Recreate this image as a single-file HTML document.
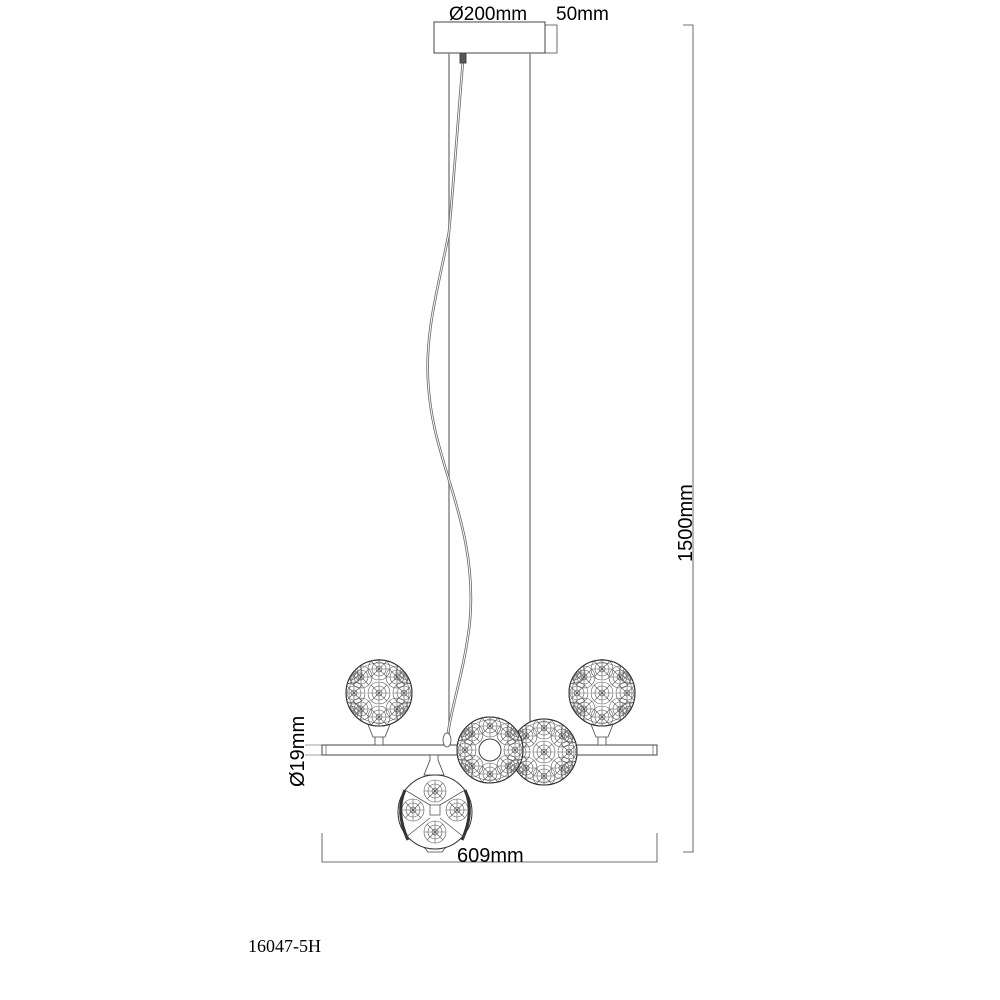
<!DOCTYPE html>
<html><head><meta charset="utf-8"><style>
html,body{margin:0;padding:0;background:#fff;width:1000px;height:1000px;overflow:hidden}
svg{display:block}
text{font-family:"Liberation Sans",sans-serif;fill:#000}
</style></head><body>
<svg width="1000" height="1000" viewBox="0 0 1000 1000" xmlns="http://www.w3.org/2000/svg">
<defs>
<g id="ros" fill="none" stroke="#555" stroke-width="0.6">
  <circle r="11"/><circle r="7"/><circle r="3"/>
  <path d="M-11 0H11M0 -11V11M-8 -8L8 8M-8 8L8 -8"/>
</g>
<clipPath id="c33"><circle r="33"/></clipPath>
<g id="ball">
  <circle r="33" fill="#fff" stroke="#333" stroke-width="1"/>
  <g clip-path="url(#c33)">
  <use href="#ros"/>
  <use href="#ros" x="-18" y="-16"/><use href="#ros" x="18" y="-16"/>
  <use href="#ros" x="-18" y="16"/><use href="#ros" x="18" y="16"/>
  <use href="#ros" x="0" y="-24"/><use href="#ros" x="0" y="24"/>
  <use href="#ros" x="-25" y="0"/><use href="#ros" x="25" y="0"/>
  <use href="#ros" x="-28" y="-20"/><use href="#ros" x="28" y="-20"/>
  <use href="#ros" x="-28" y="20"/><use href="#ros" x="28" y="20"/>
  </g>
  <circle r="33" fill="none" stroke="#333" stroke-width="1"/>
  <circle r="30" fill="none" stroke="#666" stroke-width="0.6"/>
</g>
</defs>
<g stroke="#444" fill="none">
  <rect x="434" y="22" width="111" height="31" stroke-width="1"/>
  <path d="M545 25H557V53H545" stroke-width="0.8"/>
  <line x1="449" y1="53" x2="449" y2="745" stroke="#888" stroke-width="1.5"/>
  <line x1="530" y1="53" x2="530" y2="745" stroke="#888" stroke-width="1.5"/>
  <path d="M463 60 C458 120 453 190 449 232 C440 280 425 330 428 380 C430 420 440 450 449 480 C458 510 475 560 470 620 C465 670 450 710 447 740" stroke="#666" stroke-width="2.6"/>
  <path d="M463 60 C458 120 453 190 449 232 C440 280 425 330 428 380 C430 420 440 450 449 480 C458 510 475 560 470 620 C465 670 450 710 447 740" stroke="#fff" stroke-width="1"/>
  <rect x="460" y="53" width="6" height="10" fill="#555"/>
  <path d="M683 25H693V852H683" stroke-width="0.8"/>
  <rect x="322" y="745" width="335" height="10" fill="#fff" stroke-width="1"/>
  <line x1="326" y1="745" x2="326" y2="755" stroke-width="0.6"/>
  <line x1="653" y1="745" x2="653" y2="755" stroke-width="0.6"/>
  <path d="M305 745H322M305 755H322" stroke-width="0.6"/>
  <path d="M322 833V862H657V833" stroke-width="0.8"/>
  <path d="M367 722L373 737H385L391 722Z M375 737H383V745H375Z" fill="#fff" stroke-width="0.8"/>
  <path d="M590 722L596 737H608L614 722Z M598 737H606V745H598Z" fill="#fff" stroke-width="0.8"/>
  <path d="M372 662Q379 657 386 662Z" fill="#fff" stroke-width="0.8"/>
  <path d="M595 662Q602 657 609 662Z" fill="#fff" stroke-width="0.8"/>
  <ellipse cx="447" cy="740" rx="4" ry="7" fill="#fff" stroke-width="0.8"/>
  <ellipse cx="530" cy="740" rx="4" ry="7" fill="#fff" stroke-width="0.8"/>
  <path d="M430 755H438V760L444 775H424L430 760Z" fill="#fff" stroke-width="0.8"/>
  <path d="M424 847H446L442 852H428Z" fill="#fff" stroke-width="0.8"/>
</g>
<use href="#ball" x="379" y="693"/>
<use href="#ball" x="602" y="693"/>
<use href="#ball" x="544" y="752"/>
<use href="#ball" x="490" y="750"/>
<circle cx="490" cy="750" r="11" fill="#fff" stroke="#444"/>
<g>
  <circle cx="435" cy="812" r="37" fill="#fff" stroke="#333"/>
  <path d="M405 790 Q395 812 408 840 M465 790 Q475 812 462 840" stroke="#333" fill="none" stroke-width="3"/>
  <path d="M405 790 L430 805 M405 838 L430 818 M465 790 L440 805 M465 838 L440 818" stroke="#555" fill="none" stroke-width="0.8"/>
  <use href="#ros" x="435" y="791"/>
  <use href="#ros" x="457" y="810"/><use href="#ros" x="413" y="810"/>
  <use href="#ros" x="435" y="832"/>
  <rect x="430" y="805" width="10" height="10" fill="#fff" stroke="#444" stroke-width="0.7"/>
</g>
<text x="449" y="20" font-size="19">Ø200mm</text>
<text x="556" y="20" font-size="19">50mm</text>
<text x="457" y="862" font-size="20">609mm</text>
<text transform="translate(692,562) rotate(-90)" font-size="20">1500mm</text>
<text transform="translate(304,787) rotate(-90)" font-size="20">Ø19mm</text>
<text x="248" y="952" font-size="18" style="font-family:'Liberation Serif',serif">16047-5H</text>
</svg>
</body></html>
